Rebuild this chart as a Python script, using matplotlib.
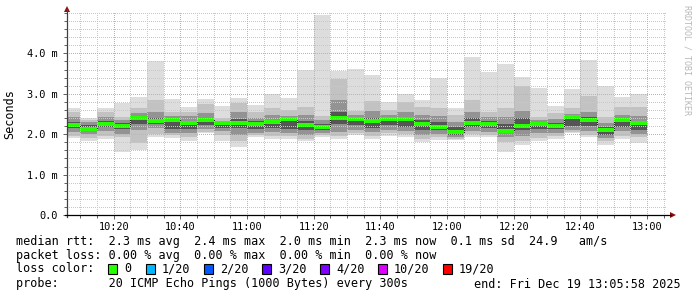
import matplotlib
matplotlib.use("Agg")
import matplotlib.pyplot as plt
from matplotlib.patches import Rectangle, Polygon
from matplotlib.lines import Line2D
from matplotlib.transforms import IdentityTransform
from matplotlib.colors import to_rgba
import numpy as np

# ---------------- data (RTT in milliseconds) ----------------
# start of each 5-minute interval, minutes after 10:00 (10:05 ... 12:55)
interval_start = list(range(5, 180, 5))
interval_len = 5

rtt_min = [1.90, 1.82, 1.87, 1.57, 1.61, 1.92, 1.90, 1.82, 2.02, 1.84, 1.69, 1.92, 1.87, 1.87, 1.84, 1.92, 1.87, 1.98,
           1.88, 1.96, 1.92, 1.81, 1.86, 1.86, 1.92, 1.92, 1.57, 1.73, 1.82, 1.87, 2.03, 1.94, 1.73, 1.88, 1.79]
rtt_max = [2.64, 2.41, 2.64, 2.78, 2.93, 3.81, 2.87, 2.67, 2.86, 2.71, 2.90, 2.72, 2.99, 2.89, 3.59, 4.95, 3.57, 3.61,
           3.47, 2.79, 2.99, 2.84, 3.38, 2.66, 3.92, 3.55, 3.74, 3.41, 3.15, 2.70, 3.12, 3.84, 3.20, 2.91, 3.00]
rtt_median = [2.22, 2.14, 2.25, 2.20, 2.40, 2.32, 2.35, 2.27, 2.34, 2.28, 2.28, 2.25, 2.30, 2.37, 2.24, 2.17, 2.39, 2.38,
              2.33, 2.38, 2.37, 2.25, 2.19, 2.05, 2.28, 2.26, 2.09, 2.20, 2.25, 2.20, 2.42, 2.35, 2.11, 2.34, 2.27]
# inner smoke bands (sorted pings 3/18, 6/15, 9/12)
band2_hi = [2.55, 2.36, 2.55, 2.43, 2.65, 2.85, 2.55, 2.55, 2.75, 2.40, 2.78, 2.55, 2.65, 2.60, 2.68, 2.45, 3.36, 2.58,
            2.82, 2.60, 2.80, 2.68, 2.66, 2.47, 2.85, 2.55, 2.65, 3.20, 2.42, 2.52, 2.66, 2.95, 2.42, 2.68, 2.68]
band3_hi = [2.42, 2.30, 2.42, 2.35, 2.52, 2.55, 2.45, 2.45, 2.52, 2.33, 2.55, 2.40, 2.48, 2.45, 2.48, 2.35, 2.85, 2.48,
            2.58, 2.48, 2.55, 2.48, 2.45, 2.30, 2.55, 2.42, 2.42, 2.58, 2.35, 2.38, 2.50, 2.55, 2.28, 2.48, 2.45]
band4_hi = [2.30, 2.22, 2.32, 2.27, 2.44, 2.40, 2.38, 2.32, 2.40, 2.30, 2.38, 2.32, 2.36, 2.40, 2.32, 2.25, 2.55, 2.42,
            2.40, 2.40, 2.42, 2.35, 2.30, 2.17, 2.40, 2.32, 2.25, 2.40, 2.30, 2.28, 2.44, 2.42, 2.18, 2.38, 2.33]
band4_lo = [2.15, 2.08, 2.18, 2.12, 2.25, 2.25, 2.12, 2.12, 2.22, 2.15, 2.15, 2.12, 2.15, 2.12, 2.10, 2.10, 2.25, 2.22,
            2.15, 2.22, 2.18, 2.10, 2.10, 1.98, 2.18, 2.15, 2.03, 2.10, 2.12, 2.12, 2.20, 2.20, 1.98, 2.18, 2.10]
band3_lo = [2.05, 2.00, 2.07, 2.00, 2.10, 2.15, 2.02, 2.02, 2.12, 2.07, 1.97, 2.03, 2.05, 2.02, 1.98, 2.03, 2.05, 2.10,
            2.05, 2.10, 2.08, 1.98, 2.00, 1.93, 2.08, 2.05, 1.93, 1.95, 2.02, 2.03, 2.10, 2.07, 1.90, 2.07, 2.00]
band2_lo = [1.95, 1.90, 1.95, 1.93, 1.78, 2.00, 1.97, 1.92, 2.06, 1.98, 1.82, 1.97, 1.95, 1.95, 1.88, 1.97, 1.95, 2.03,
            1.95, 2.02, 2.00, 1.88, 1.92, 1.89, 2.00, 1.98, 1.80, 1.82, 1.90, 1.95, 2.06, 1.98, 1.82, 1.96, 1.92]

x_tick_minutes = [20, 40, 60, 80, 100, 120, 140, 160, 180]
x_tick_labels = ["10:20", "10:40", "11:00", "11:20", "11:40", "12:00", "12:20", "12:40", "13:00"]
y_tick_values = [0, 1, 2, 3, 4]
y_tick_labels = ["0.0", "1.0 m", "2.0 m", "3.0 m", "4.0 m"]

legend_rtt = "median rtt:  2.3 ms avg  2.4 ms max  2.0 ms min  2.3 ms now  0.1 ms sd  24.9   am/s"
legend_loss = "packet loss: 0.00 % avg  0.00 % max  0.00 % min  0.00 % now"
legend_probe = "probe:       20 ICMP Echo Pings (1000 Bytes) every 300s"
legend_end = "end: Fri Dec 19 13:05:58 2025"
loss_labels = ["0", "1/20", "2/20", "3/20", "4/20", "10/20", "19/20"]
loss_colors = ["#26ff00", "#00b8ff", "#0059ff", "#5e00ff", "#7e00ff", "#dd00ff", "#ff0000"]

# ---------------- figure ----------------
W, H = 697, 297
MONO = "DejaVu Sans Mono"
fig = plt.figure(figsize=(W / 100, H / 100), dpi=100)
fig.patch.set_facecolor("white")

ax_l, ax_r, ax_t, ax_b = 67, 667, 13, 215
PW, PH = ax_r - ax_l, ax_b - ax_t
ax = fig.add_axes([ax_l / W, (H - ax_b) / H, PW / W, PH / H])
ax.set_facecolor("white")

XMIN, XMAX = 5 + 58 / 60, 185 + 58 / 60
YMIN, YMAX = 0.0, 5.0

x0 = np.array(interval_start, dtype=float)
layers = [
    (rtt_min, rtt_max, "#dddddd"),
    (band2_lo, band2_hi, "#c2c2c2"),
    (band3_lo, band3_hi, "#939393"),
    (band4_lo, band4_hi, "#555555"),
]
for lo, hi, col in layers:
    lo = np.array(lo); hi = np.array(hi)
    ax.bar(x0, hi - lo, bottom=lo, width=interval_len, align="edge", color=col,
           linewidth=0, antialiased=False, zorder=1)

# median: thin dark step line + green band
med = np.array(rtt_median)
edges = np.append(x0, x0[-1] + interval_len)
ax.step(edges, np.append(med, med[-1]), where="post", color="#202020", lw=0.8, zorder=1.5)
px = (YMAX - YMIN) / PH
ax.bar(x0, np.full_like(med, 4 * px), bottom=med - 2 * px, width=interval_len, align="edge",
       color=loss_colors[0], linewidth=0, antialiased=False, zorder=2)

ax.set_xlim(XMIN, XMAX)
ax.set_ylim(YMIN, YMAX)

minor_x = np.arange(10, 186, 5)
minor_y = np.arange(0, 5.01, 0.2)
ax.set_xticks(x_tick_minutes)
ax.set_xticklabels(x_tick_labels)
ax.set_xticks(minor_x, minor=True)
ax.set_yticks(y_tick_values)
ax.set_yticklabels(y_tick_labels)
ax.set_yticks(minor_y, minor=True)

# dotted grid (1 px on / 1 px off) rendered as a pixel overlay on top of the smoke
grid = np.zeros((PH, PW, 4))
c_minor = to_rgba("#c8c8c8")
c_major = to_rgba("#e8a0a0")
def put_v(t, col):
    c = int(round((t - XMIN) / (XMAX - XMIN) * PW))
    if 0 <= c < PW:
        grid[0::2, c] = col
def put_h(v, col):
    r = int(round((YMAX - v) / (YMAX - YMIN) * PH))
    if 0 <= r < PH:
        grid[r, 0::2] = col
for t in minor_x:
    put_v(t, c_minor)
for v in minor_y:
    put_h(v, c_minor)
for t in x_tick_minutes:
    put_v(t, c_major)
for v in y_tick_values:
    put_h(v, c_major)
ax.imshow(grid, extent=(XMIN, XMAX, YMIN, YMAX), aspect="auto", interpolation="nearest",
          zorder=3, origin="upper")
ax.set_xlim(XMIN, XMAX)
ax.set_ylim(YMIN, YMAX)

for s in ["top", "right", "left", "bottom"]:
    ax.spines[s].set_visible(False)

ax.tick_params(axis="both", which="both", direction="out", color="#606060", width=0.7,
               labelsize=7.4, labelcolor="#000000")
ax.tick_params(axis="both", which="major", length=3)
ax.tick_params(axis="both", which="minor", length=2)
ax.tick_params(axis="x", which="major", pad=1.8)
ax.tick_params(axis="y", which="major", pad=3.4)
for lab in ax.get_xticklabels() + ax.get_yticklabels():
    lab.set_family(MONO)

def fy(y):
    return H - y

idt = IdentityTransform()
fig.add_artist(Line2D([ax_l, ax_l], [fy(ax_b + 2), fy(9)], color="#404040", lw=0.9, transform=idt))
fig.add_artist(Line2D([ax_l - 2, 671], [fy(ax_b), fy(ax_b)], color="#000000", lw=0.9, transform=idt))
arrow_col = "#8b1010"
fig.add_artist(Polygon([[ax_l, fy(6)], [ax_l - 3, fy(12)], [ax_l + 3, fy(12)]], closed=True,
                       facecolor=arrow_col, edgecolor="none", transform=idt))
fig.add_artist(Polygon([[676, fy(ax_b)], [670, fy(ax_b - 3)], [670, fy(ax_b + 3)]], closed=True,
                       facecolor=arrow_col, edgecolor="none", transform=idt))

fig.text(10 / W, 1 - 114 / H, "Seconds", rotation=90, ha="center", va="center",
         fontsize=8.5, family=MONO, color="#000000")

fig.text(687 / W, 1 - 5 / H, "RRDTOOL / TOBI OETIKER", rotation=270, ha="center", va="top",
         fontsize=6, family=MONO, color="#b8b8b8")

leg_x = 16
fs = 8.5
fig.text(leg_x / W, 1 - 241 / H, legend_rtt, ha="left", va="center", fontsize=fs, family=MONO)
fig.text(leg_x / W, 1 - 255 / H, legend_loss, ha="left", va="center", fontsize=fs, family=MONO)
fig.text(leg_x / W, 1 - 269 / H, "loss color:", ha="left", va="center", fontsize=fs, family=MONO)
sw_x = [108, 146, 204, 262, 320, 378, 443]
for sx, lab, col in zip(sw_x, loss_labels, loss_colors):
    fig.add_artist(Rectangle((sx, fy(274)), 9, 10, facecolor=col, edgecolor="#000000",
                             linewidth=0.8, transform=idt))
    fig.text((sx + 16) / W, 1 - 269 / H, lab, ha="left", va="center", fontsize=fs, family=MONO)
fig.text(leg_x / W, 1 - 284 / H, legend_probe, ha="left", va="center", fontsize=fs, family=MONO)
fig.text(681 / W, 1 - 284 / H, legend_end, ha="right", va="center", fontsize=fs, family=MONO)

fig.savefig("out.png", dpi=100, facecolor="white")
